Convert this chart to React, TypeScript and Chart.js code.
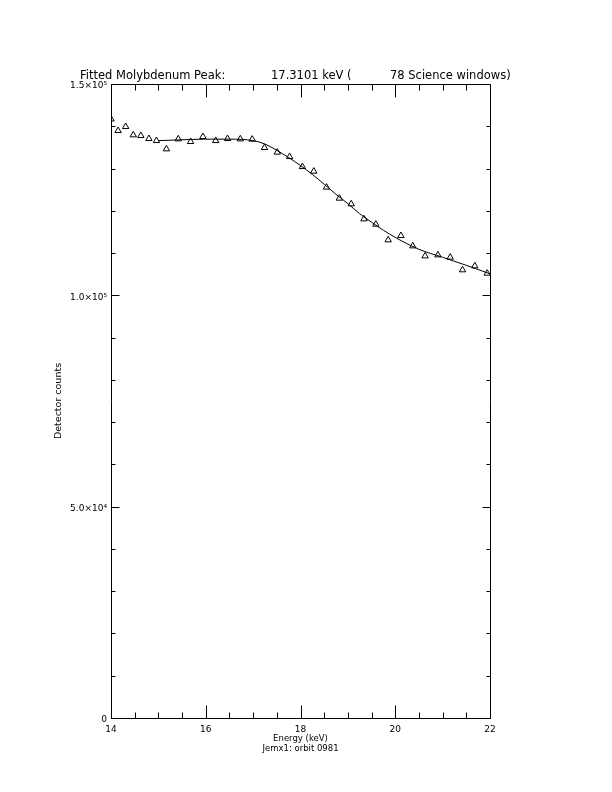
import React, { useEffect, useRef } from 'react';
import { Chart, registerables } from 'chart.js';

Chart.register(...registerables);

// Measured detector counts (triangles)
const pointEnergy = [
  14.0, 14.15, 14.31, 14.47, 14.63, 14.8, 14.96, 15.17, 15.42, 15.68, 15.94, 16.21,
  16.46, 16.73, 16.98, 17.24, 17.51, 17.77, 18.04, 18.28, 18.55, 18.82, 19.07, 19.34,
  19.59, 19.85, 20.12, 20.37, 20.63, 20.9, 21.16, 21.42, 21.68, 21.94,
];
const pointCounts = [
  141700, 138950, 139900, 137930, 137770, 137060, 136580, 134620, 136990, 136350, 137530, 136580,
  137060, 136990, 136910, 134930, 133840, 132800, 130430, 129340, 125560, 122950, 121610, 118060,
  116800, 113090, 114110, 111670, 109300, 109540, 109000, 106000, 106940, 105210,
];

// Fitted curve (solid line)
const fitEnergy = [
  15.0, 15.5, 16.0, 16.5, 17.0, 17.25, 17.5, 17.75, 18.0, 18.25, 18.5, 18.75, 19.0, 19.25,
  19.5, 19.75, 20.0, 20.5, 21.0, 21.5, 22.0,
];
const fitCounts = [
  136600, 136800, 136950, 136950, 136600, 135800, 134300, 132600, 130700, 128600, 126300,
  123900, 121700, 119300, 117300, 115400, 113700, 110900, 109000, 107100, 105100,
];

const xTickValues = [14, 16, 18, 20, 22];
const xTickLabels = ['14', '16', '18', '20', '22'];
const yTickValues = [0, 50000, 100000, 150000];
const yTickLabels = ['0', '5.0×10⁴', '1.0×10⁵', '1.5×10⁵'];
const xMinorStep = 0.5;
const yMinorStep = 10000;

const titleParts = ['Fitted Molybdenum Peak:', '17.3101 keV (', '78 Science windows)'];
const xTitle = ['Energy (keV)', 'Jemx1: orbit 0981'];
const yTitle = 'Detector counts';

const FONT = '"DejaVu Sans", sans-serif';

const framePlugin = {
  id: 'frameTicks',
  afterDatasetsDraw(chart: any) {
    const { ctx, chartArea } = chart;
    const xs = chart.scales.x;
    const ys = chart.scales.y;
    const L = Math.round(chartArea.left) + 0.5;
    const R = Math.round(chartArea.right) + 0.5;
    const T = Math.round(chartArea.top) + 0.5;
    const B = Math.round(chartArea.bottom) + 0.5;
    ctx.save();
    ctx.strokeStyle = '#000';
    ctx.lineWidth = 1;
    ctx.beginPath();
    ctx.rect(L, T, R - L, B - T);
    // x ticks (bottom and top, inward)
    for (let v = xs.min; v <= xs.max + 1e-9; v += xMinorStep) {
      const major = xTickValues.some((t) => Math.abs(t - v) < 1e-6);
      const len = major ? 13 : 6;
      const px = Math.round(xs.getPixelForValue(v)) + 0.5;
      ctx.moveTo(px, B);
      ctx.lineTo(px, B - len);
      ctx.moveTo(px, T);
      ctx.lineTo(px, T + len);
    }
    // y ticks (left and right, inward)
    for (let v = ys.min; v <= ys.max + 1e-6; v += yMinorStep) {
      const major = yTickValues.some((t) => Math.abs(t - v) < 1e-6);
      const len = major ? 8 : 4;
      const py = Math.round(ys.getPixelForValue(v)) + 0.5;
      ctx.moveTo(L, py);
      ctx.lineTo(L + len, py);
      ctx.moveTo(R, py);
      ctx.lineTo(R - len, py);
    }
    ctx.stroke();
    ctx.restore();
  },
  afterDraw(chart: any) {
    const { ctx } = chart;
    const xsPos = [80, 271, 390];
    ctx.save();
    ctx.fillStyle = '#000';
    ctx.font = `11.5px ${FONT}`;
    ctx.textAlign = 'left';
    ctx.textBaseline = 'alphabetic';
    titleParts.forEach((t, i) => ctx.fillText(t, xsPos[i], 79));
    ctx.restore();
  },
};

export default function App() {
  const ref = useRef<HTMLCanvasElement | null>(null);

  useEffect(() => {
    if (!ref.current) return;
    const points = pointEnergy.map((x, i) => ({ x, y: pointCounts[i] }));
    const fit = fitEnergy.map((x, i) => ({ x, y: fitCounts[i] }));
    const chart = new Chart(ref.current, {
      type: 'scatter',
      data: {
        datasets: [
          {
            type: 'line',
            data: fit,
            borderColor: '#000',
            borderWidth: 1,
            pointRadius: 0,
            fill: false,
            cubicInterpolationMode: 'monotone',
            order: 2,
          } as any,
          {
            type: 'scatter',
            data: points,
            pointStyle: 'triangle',
            pointRadius: 3.7,
            borderColor: '#000',
            backgroundColor: 'rgba(0,0,0,0)',
            pointBorderWidth: 1,
            showLine: false,
            clip: 0,
            order: 1,
          } as any,
        ],
      },
      options: {
        responsive: false,
        animation: false,
        devicePixelRatio: 1,
        layout: { padding: { left: 0, top: 84, right: 122, bottom: 0 } },
        plugins: {
          legend: { display: false },
          tooltip: { enabled: false },
          title: { display: false },
        },
        scales: {
          x: {
            type: 'linear',
            min: 14,
            max: 22,
            afterFit(s: any) {
              s.height = 74;
            },
            grid: { display: false, drawTicks: false },
            border: { display: false },
            ticks: {
              stepSize: 2,
              padding: 6,
              color: '#000',
              maxRotation: 0,
              autoSkip: false,
              font: { family: FONT, size: 9 },
              callback: (v: any) => {
                const i = xTickValues.findIndex((t) => Math.abs(t - Number(v)) < 1e-6);
                return i >= 0 ? xTickLabels[i] : '';
              },
            },
            title: {
              display: true,
              text: xTitle,
              color: '#000',
              font: { family: FONT, size: 8.5, lineHeight: 1.1 },
              padding: { top: 0, bottom: 39 },
            },
          },
          y: {
            type: 'linear',
            min: 0,
            max: 150000,
            afterFit(s: any) {
              s.width = 111;
            },
            grid: { display: false, drawTicks: false },
            border: { display: false },
            ticks: {
              stepSize: 50000,
              padding: 4,
              labelOffset: 2,
              color: '#000',
              autoSkip: false,
              font: { family: FONT, size: 9 },
              callback: (v: any) => {
                const i = yTickValues.findIndex((t) => Math.abs(t - Number(v)) < 1e-6);
                return i >= 0 ? yTickLabels[i] : '';
              },
            },
            title: {
              display: true,
              text: yTitle,
              color: '#000',
              font: { family: FONT, size: 9.5, lineHeight: 1.2 },
              padding: { top: 53, bottom: 0 },
            },
          },
        },
      },
      plugins: [framePlugin],
    });
    return () => chart.destroy();
  }, []);

  return (
    <div style={{ position: 'absolute', left: 0, top: 0, width: 612, height: 792, background: '#fff' }}>
      <canvas ref={ref} width={612} height={792} style={{ display: 'block' }} />
    </div>
  );
}
